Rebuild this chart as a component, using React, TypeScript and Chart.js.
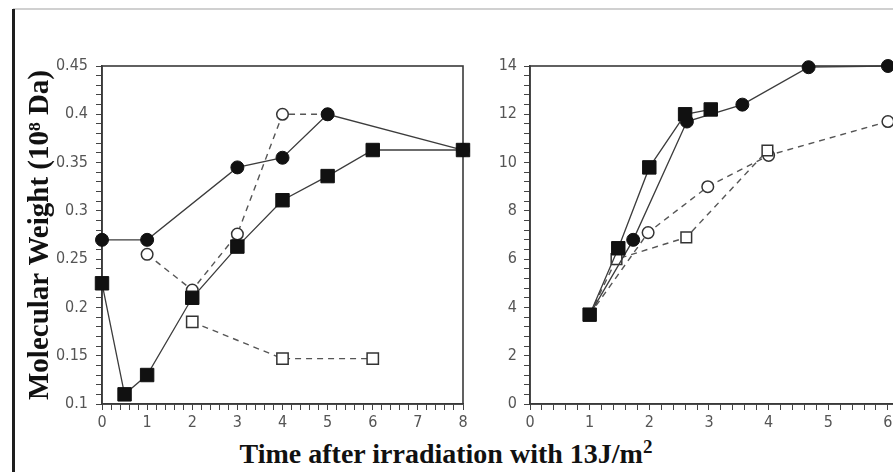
import { useEffect, useRef } from "react";
import { Chart, registerables } from "chart.js";
Chart.register(...registerables);

// ---------- Left panel (Molecular weight, 10^8 Da) ----------
const leftFilledCirclesX = [0, 1, 3, 4, 5, 8];
const leftFilledCirclesY = [0.27, 0.27, 0.345, 0.355, 0.4, 0.363];
const leftFilledSquaresX = [0, 0.5, 1, 2, 3, 4, 5, 6, 8];
const leftFilledSquaresY = [0.225, 0.11, 0.13, 0.21, 0.263, 0.311, 0.336, 0.363, 0.363];
const leftOpenCirclesX = [1, 2, 3, 4, 5];
const leftOpenCirclesY = [0.255, 0.218, 0.276, 0.4, 0.4];
const leftOpenSquaresX = [2, 4, 6];
const leftOpenSquaresY = [0.185, 0.147, 0.147];

// ---------- Right panel ----------
const rightFilledSquaresX = [1, 1.48, 2, 2.6, 3.03];
const rightFilledSquaresY = [3.7, 6.45, 9.8, 12.0, 12.2];
const rightFilledCirclesX = [1, 1.73, 2.63, 3.56, 4.67, 6];
const rightFilledCirclesY = [3.7, 6.8, 11.7, 12.4, 13.95, 14.0];
const rightOpenCirclesX = [1, 1.98, 2.98, 4, 6];
const rightOpenCirclesY = [3.7, 7.1, 9.0, 10.3, 11.7];
const rightOpenSquaresX = [1, 1.45, 2.62, 3.98];
const rightOpenSquaresY = [3.7, 6.0, 6.9, 10.5];

// ---------- Axis ranges & labels ----------
const leftXRange = [0, 8];
const leftYRange = [0.1, 0.45];
const rightXRange = [0, 6.37];
const rightYRange = [0, 14];
const yTitle = "Molecular Weight (10\u2078 Da)";
const xTitle = "Time after irradiation with 13J/m";
const xTitleSup = "2";

const TICK_FONT = "'DejaVu Sans Condensed', 'Liberation Sans Narrow', 'Liberation Sans', sans-serif";
const SERIF = "'Liberation Serif', 'DejaVu Serif', serif";

const pts = (xs: number[], ys: number[]) => xs.map((x, i) => ({ x, y: ys[i] }));

function minorTicks(min: number, max: number, step: number) {
  const n = Math.floor((max - min) / step + 1e-6);
  const out: { value: number }[] = [];
  for (let i = 0; i <= n; i++) out.push({ value: +(min + i * step).toFixed(6) });
  return out;
}

const isMult = (v: number, m: number) => Math.abs(v / m - Math.round(v / m)) < 1e-6;

const boxPlugin = {
  id: "box",
  beforeDatasetsDraw(chart: any) {
    const { ctx, chartArea } = chart;
    const { left, top, right, bottom } = chartArea;
    ctx.save();
    ctx.strokeStyle = "#3a3a3a";
    ctx.lineWidth = 1.6;
    ctx.strokeRect(left, top, right - left, bottom - top);
    ctx.restore();
  },
};

function filled(data: any[], style: string, radius: number | ((c: any) => number)) {
  return {
    data,
    showLine: true,
    borderColor: "#3c3c3c",
    borderWidth: 1.3,
    pointStyle: style,
    pointRadius: radius,
    pointBackgroundColor: "#111",
    pointBorderColor: "#111",
    pointBorderWidth: 1,
    tension: 0,
    clip: false,
  };
}

function open(data: any[], style: string, radius: number | ((c: any) => number)) {
  return {
    data,
    showLine: true,
    borderColor: "#555",
    borderWidth: 1.4,
    borderDash: [6, 5],
    pointStyle: style,
    pointRadius: radius,
    pointBackgroundColor: "#fff",
    pointBorderColor: "#333",
    pointBorderWidth: 1.5,
    tension: 0,
    clip: false,
  };
}

function xScale(range: number[], height: number) {
  return {
    type: "linear",
    min: range[0],
    max: range[1],
    afterFit: (s: any) => {
      s.height = height;
    },
    afterBuildTicks: (s: any) => {
      s.ticks = minorTicks(range[0], range[1], 0.2);
    },
    ticks: {
      autoSkip: false,
      maxRotation: 0,
      padding: 3,
      color: "#555",
      font: { family: TICK_FONT, size: 16 },
      callback: (v: number) => (isMult(v, 1) ? String(Math.round(v)) : ""),
    },
    grid: { drawOnChartArea: false, tickLength: 6, tickColor: "#444", tickWidth: 1 },
    border: { display: true, color: "#3a3a3a", width: 1.6 },
  };
}

function baseOptions(padLeft: number, padRight: number, scales: any) {
  return {
    responsive: false,
    animation: false,
    layout: { autoPadding: false, padding: { left: padLeft, right: padRight, top: 66, bottom: 0 } },
    plugins: { legend: { display: false }, tooltip: { enabled: false } },
    scales,
  };
}

export default function App() {
  const leftRef = useRef<HTMLCanvasElement>(null);
  const rightRef = useRef<HTMLCanvasElement>(null);

  useEffect(() => {
    const hideFirst = (r: number) => (c: any) => (c.dataIndex === 0 ? 0 : r);
    const left = new Chart(leftRef.current as HTMLCanvasElement, {
      type: "scatter",
      data: {
        datasets: [
          filled(pts(leftFilledSquaresX, leftFilledSquaresY), "rect", 9.5),
          filled(pts(leftFilledCirclesX, leftFilledCirclesY), "circle", 6.5),
          open(pts(leftOpenCirclesX, leftOpenCirclesY), "circle", 5.8),
          open(pts(leftOpenSquaresX, leftOpenSquaresY), "rect", 8),
        ] as any,
      },
      options: baseOptions(16, 17, {
        x: xScale(leftXRange, 26),
        y: {
          type: "linear",
          min: leftYRange[0],
          max: leftYRange[1],
          afterFit: (s: any) => {
            s.width = 86;
          },
          afterBuildTicks: (s: any) => {
            s.ticks = minorTicks(leftYRange[0], leftYRange[1], 0.01);
          },
          ticks: {
            autoSkip: false,
            padding: 8,
            color: "#555",
            font: { family: TICK_FONT, size: 16 },
            callback: (v: number) => (isMult(v, 0.05) ? String(+v.toFixed(2)) : ""),
          },
          grid: { drawOnChartArea: false, tickLength: 6, tickColor: "#444", tickWidth: 1 },
          border: { display: true, color: "#3a3a3a", width: 1.6 },
          title: {
            display: true,
            text: yTitle,
            color: "#111",
            font: { family: SERIF, size: 29, weight: "bold" },
            padding: { top: 7, bottom: 0 },
          },
        },
      }) as any,
      plugins: [boxPlugin],
    });

    const right = new Chart(rightRef.current as HTMLCanvasElement, {
      type: "scatter",
      data: {
        datasets: [
          filled(pts(rightFilledSquaresX, rightFilledSquaresY), "rect", 9.5),
          filled(pts(rightFilledCirclesX, rightFilledCirclesY), "circle", hideFirst(6.5)),
          open(pts(rightOpenSquaresX, rightOpenSquaresY), "rect", hideFirst(7.5)),
          open(pts(rightOpenCirclesX, rightOpenCirclesY), "circle", hideFirst(5.8)),
        ] as any,
      },
      options: baseOptions(0, 0, {
        x: xScale(rightXRange, 26),
        y: {
          type: "linear",
          min: rightYRange[0],
          max: rightYRange[1],
          afterFit: (s: any) => {
            s.width = 60;
          },
          afterBuildTicks: (s: any) => {
            s.ticks = minorTicks(rightYRange[0], rightYRange[1], 0.4);
          },
          ticks: {
            autoSkip: false,
            padding: 7,
            color: "#555",
            font: { family: TICK_FONT, size: 16 },
            callback: (v: number) => (isMult(v, 2) ? String(Math.round(v)) : ""),
          },
          grid: { drawOnChartArea: false, tickLength: 6, tickColor: "#444", tickWidth: 1 },
          border: { display: true, color: "#3a3a3a", width: 1.6 },
        },
      }) as any,
      plugins: [boxPlugin],
    });

    return () => {
      left.destroy();
      right.destroy();
    };
  }, []);

  return (
    <div
      style={{
        position: "fixed",
        left: 0,
        top: 0,
        width: 893,
        height: 472,
        overflow: "hidden",
        background: "#fff",
      }}
    >
      <div style={{ position: "absolute", left: 13, top: 8, width: 880, height: 2, background: "#d0d0d0" }} />
      <div style={{ position: "absolute", left: 12, top: 9, width: 3, height: 463, background: "#1e1e1e" }} />
      <canvas
        ref={leftRef}
        width={480}
        height={430}
        style={{ position: "absolute", left: 0, top: 0, width: 480, height: 430 }}
      />
      <canvas
        ref={rightRef}
        width={440}
        height={430}
        style={{ position: "absolute", left: 470, top: 0, width: 440, height: 430 }}
      />
      <div
        style={{
          position: "absolute",
          left: 0,
          width: 892,
          top: 430,
          textAlign: "center",
          fontFamily: SERIF,
          fontWeight: "bold",
          fontSize: 28,
          color: "#111",
          whiteSpace: "nowrap",
          lineHeight: "34px",
        }}
      >
        {xTitle}
        <sup style={{ fontSize: 19 }}>{xTitleSup}</sup>
      </div>
    </div>
  );
}
